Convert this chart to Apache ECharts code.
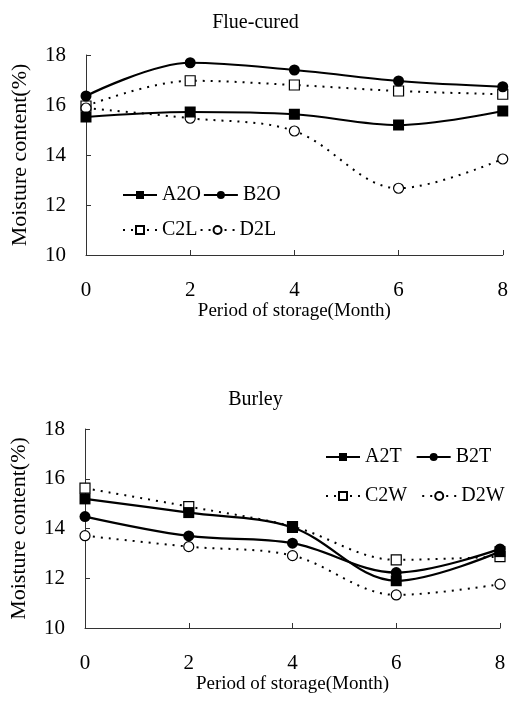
<!DOCTYPE html>
<html><head><meta charset="utf-8">
<script src="https://cdn.jsdelivr.net/npm/echarts@6/dist/echarts.min.js"></script>
<style>html,body{margin:0;padding:0;background:#fff}#c{width:511px;height:704px}</style>
</head><body><div id="c"></div>
<script>
const months = [0, 2, 4, 6, 8];
const yTicks = [10, 12, 14, 16, 18];
// Flue-cured
const A2O = [15.52, 15.72, 15.63, 15.2, 15.76];
const B2O = [16.36, 17.69, 17.4, 16.96, 16.73];
const C2L = [15.96, 16.97, 16.8, 16.56, 16.43];
const D2L = [15.88, 15.47, 14.96, 12.67, 13.84];
// Burley
const A2T = [15.19, 14.64, 14.04, 11.9, 13.07];
const B2T = [14.48, 13.7, 13.41, 12.23, 13.18];
const C2W = [15.62, 14.88, 14.08, 12.74, 12.87];
const D2W = [13.71, 13.27, 12.91, 11.33, 11.76];

const FONT = 'Liberation Serif';
const pairs = v => months.map((m, i) => [m, v[i]]);

function mkSeries(name, vals, idx, kind) {
  const solid = kind === 'fs' || kind === 'fc';
  const sym = (kind === 'fs' || kind === 'es') ? 'rect' : 'circle';
  return {
    name, type: 'line', xAxisIndex: idx, yAxisIndex: idx,
    data: pairs(vals), smooth: 0.35, symbol: sym,
    symbolSize: solid ? 11 : 10,
    lineStyle: { color: '#000', width: solid ? 2.2 : 2, type: solid ? 'solid' : [2, 6] },
    itemStyle: { color: solid ? '#000' : '#fff', borderColor: '#000', borderWidth: solid ? 0 : 1.2 },
    z: solid ? 3 : 2
  };
}

function xAx(idx) {
  return {
    gridIndex: idx, type: 'value', min: 0, max: 8, interval: 2,
    name: 'Period of storage(Month)', nameLocation: 'middle', nameGap: 45,
    nameTextStyle: { fontFamily: FONT, fontSize: 19, color: '#000' },
    axisLine: { lineStyle: { color: '#333', width: 1 } },
    axisTick: { inside: true, length: 5, lineStyle: { color: '#333' } },
    axisLabel: { fontFamily: FONT, fontSize: 21, color: '#000', margin: 25 },
    splitLine: { show: false }
  };
}
function yAx(idx) {
  return {
    gridIndex: idx, type: 'value', min: 10, max: 18, interval: 2,
    name: 'Moisture content(%)', nameLocation: 'middle', nameGap: 55,
    nameTextStyle: { fontFamily: FONT, fontSize: 22, color: '#000' },
    axisLine: { show: true, lineStyle: { color: '#333', width: 1 } },
    axisTick: { show: true, inside: true, length: 5, lineStyle: { color: '#333' } },
    axisLabel: { fontFamily: FONT, fontSize: 21, color: '#000', margin: 20 },
    splitLine: { show: false }
  };
}
function leg(names, left, top, gap) {
  return {
    data: names, left, top, itemWidth: 34, itemHeight: 10, itemGap: gap,
    textStyle: { fontFamily: FONT, fontSize: 20, color: '#000' }, padding: 0
  };
}

const chart = echarts.init(document.getElementById('c'), null, { renderer: 'canvas' });
chart.setOption({
  animation: false,
  backgroundColor: '#fff',
  title: [
    { text: 'Flue-cured', left: 'center', top: 8, textStyle: { fontFamily: FONT, fontSize: 20, fontWeight: 'normal', color: '#000' } },
    { text: 'Burley', left: 'center', top: 385, textStyle: { fontFamily: FONT, fontSize: 20, fontWeight: 'normal', color: '#000' } }
  ],
  grid: [
    { left: 86, right: 6, top: 55, height: 200 },
    { left: 85, right: 11, top: 429, height: 199 }
  ],
  xAxis: [xAx(0), xAx(1)],
  yAxis: [yAx(0), yAx(1)],
  legend: [
    leg(['A2O', 'B2O'], 122, 185, 2),
    leg(['C2L', 'D2L'], 122, 220, 2),
    leg(['A2T', 'B2T'], 325, 447, 14),
    leg(['C2W', 'D2W'], 325, 486, 14)
  ],
  series: [
    mkSeries('A2O', A2O, 0, 'fs'),
    mkSeries('B2O', B2O, 0, 'fc'),
    mkSeries('C2L', C2L, 0, 'es'),
    mkSeries('D2L', D2L, 0, 'ec'),
    mkSeries('A2T', A2T, 1, 'fs'),
    mkSeries('B2T', B2T, 1, 'fc'),
    mkSeries('C2W', C2W, 1, 'es'),
    mkSeries('D2W', D2W, 1, 'ec')
  ]
});
</script></body></html>
